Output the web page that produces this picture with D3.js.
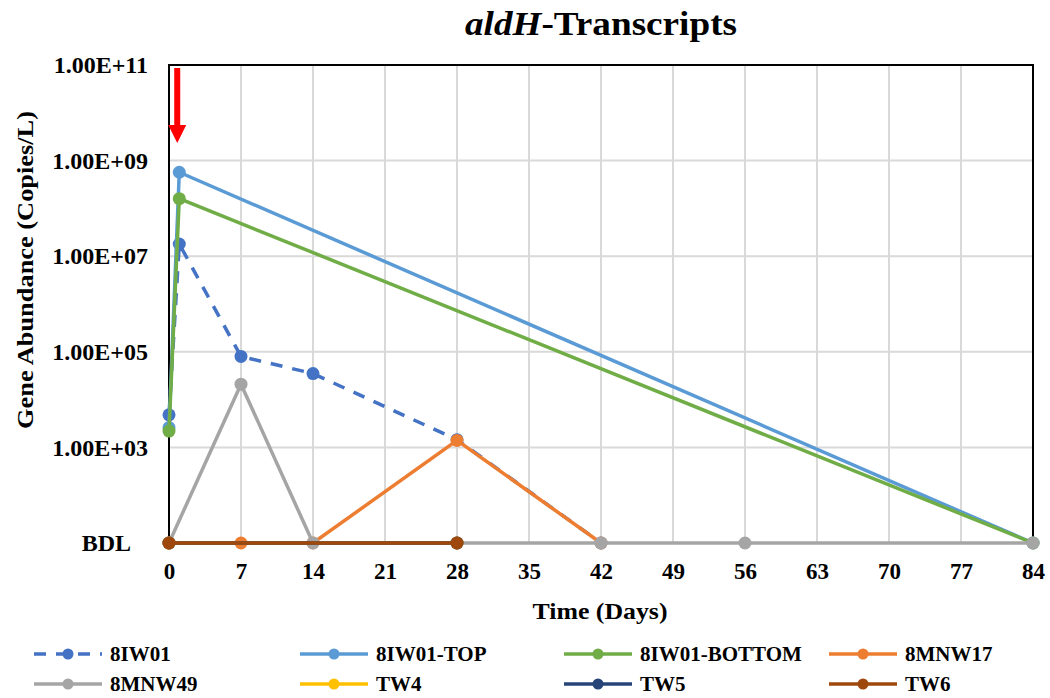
<!DOCTYPE html>
<html>
<head>
<meta charset="utf-8">
<script src="https://cdn.jsdelivr.net/npm/d3@7"></script>
<style>
  body { margin: 0; background: #fff; }
  text { font-family: "Liberation Serif", "Times New Roman", serif; font-weight: bold; }
</style>
</head>
<body>
<div id="chart"></div>
<script>
// BDL is plotted at 1e1 (bottom of the log axis)
var BDL = 10;

var seriesNames = ["8IW01", "8IW01-TOP", "8IW01-BOTTOM", "8MNW17", "8MNW49", "TW4", "TW5", "TW6"];
var seriesColors = ["#4472C4", "#5B9BD5", "#70AD47", "#ED7D31", "#A5A5A5", "#FFC000", "#264478", "#9E480E"];
var seriesDashed = [true, false, false, false, false, false, false, false];

var days_8IW01 = [0, 1, 7, 14, 28, 42];
var vals_8IW01 = [4.8e3, 1.8e7, 8e4, 3.5e4, 1.45e3, BDL];

var days_8IW01_TOP = [0, 1, 84];
var vals_8IW01_TOP = [2.6e3, 5.7e8, BDL];

var days_8IW01_BOTTOM = [0, 1, 84];
var vals_8IW01_BOTTOM = [2.2e3, 1.6e8, BDL];

var days_8MNW17 = [0, 7, 14, 28, 42];
var vals_8MNW17 = [BDL, BDL, BDL, 1.4e3, BDL];

var days_8MNW49 = [0, 7, 14, 28, 42, 56, 84];
var vals_8MNW49 = [BDL, 2.1e4, BDL, BDL, BDL, BDL, BDL];

var days_TW = [0, 28];
var vals_TW4 = [BDL, BDL];
var vals_TW5 = [BDL, BDL];
var vals_TW6 = [BDL, BDL];

var xTicks = [0, 7, 14, 21, 28, 35, 42, 49, 56, 63, 70, 77, 84];
var yTicks = [10, 1e3, 1e5, 1e7, 1e9, 1e11];
var yTickLabels = ["BDL", "1.00E+03", "1.00E+05", "1.00E+07", "1.00E+09", "1.00E+11"];

// arrow marks the injection time
var arrowDay = 0.8;

var allDays = [days_8IW01, days_8IW01_TOP, days_8IW01_BOTTOM, days_8MNW17, days_8MNW49, days_TW, days_TW, days_TW];
var allVals = [vals_8IW01, vals_8IW01_TOP, vals_8IW01_BOTTOM, vals_8MNW17, vals_8MNW49, vals_TW4, vals_TW5, vals_TW6];

function drawChart() {
  var W = 1050, H = 698;
  var pLeft = 169, pRight = 1033, pTop = 65, pBottom = 543;

  var svg = d3.select("#chart").append("svg")
      .attr("width", W)
      .attr("height", H);

  var x = d3.scaleLinear().domain([0, 84]).range([pLeft, pRight]);
  var y = d3.scaleLog().domain([10, 1e11]).range([pBottom, pTop]);

  // gridlines
  svg.append("g").selectAll("line")
    .data(xTicks).enter().append("line")
      .attr("x1", d => x(d)).attr("x2", d => x(d))
      .attr("y1", pTop).attr("y2", pBottom)
      .attr("stroke", "#D9D9D9").attr("stroke-width", 2);
  svg.append("g").selectAll("line")
    .data(yTicks).enter().append("line")
      .attr("x1", pLeft).attr("x2", pRight)
      .attr("y1", d => y(d)).attr("y2", d => y(d))
      .attr("stroke", "#D9D9D9").attr("stroke-width", 2);

  // plot border
  svg.append("rect")
    .attr("x", pLeft).attr("y", pTop)
    .attr("width", pRight - pLeft).attr("height", pBottom - pTop)
    .attr("fill", "none").attr("stroke", "#000").attr("stroke-width", 2);

  // axes (labels only, Excel style)
  var xAxis = svg.append("g")
    .attr("transform", "translate(0," + pBottom + ")")
    .call(d3.axisBottom(x).tickValues(xTicks).tickSize(0).tickPadding(20));
  xAxis.select(".domain").remove();
  xAxis.selectAll("text")
    .attr("font-size", 23).attr("font-family", "Liberation Serif").attr("font-weight", "bold").attr("fill", "#000");

  var yAxis = svg.append("g")
    .attr("transform", "translate(" + pLeft + ",0)")
    .call(d3.axisLeft(y).tickValues(yTicks).tickSize(0).tickPadding(21)
          .tickFormat((d, i) => yTickLabels[i]));
  yAxis.select(".domain").remove();
  yAxis.selectAll("text")
    .attr("font-size", 24).attr("font-family", "Liberation Serif").attr("font-weight", "bold").attr("fill", "#000")
    .attr("dx", (d, i) => i == 0 ? -17 : 0);

  // series lines + markers
  var line = d3.line().x(d => x(d[0])).y(d => y(d[1]));
  for (var s = 0; s < seriesNames.length; s++) {
    var pts = allDays[s].map((d, i) => [d, allVals[s][i]]);
    var g = svg.append("g");
    g.append("path")
      .datum(pts)
      .attr("d", line)
      .attr("fill", "none")
      .attr("stroke", seriesColors[s])
      .attr("stroke-width", 3.5)
      .attr("stroke-dasharray", seriesDashed[s] ? "12,10" : null);
    g.selectAll("circle")
      .data(pts).enter().append("circle")
      .attr("cx", d => x(d[0]))
      .attr("cy", d => y(d[1]))
      .attr("r", 6.5)
      .attr("fill", seriesColors[s]);
  }

  // red arrow
  var ax = x(arrowDay);
  svg.append("rect")
    .attr("x", ax - 3).attr("y", 68)
    .attr("width", 6).attr("height", 58)
    .attr("fill", "#FF0000");
  svg.append("path")
    .attr("d", "M" + (ax - 9) + ",125 L" + (ax + 9) + ",125 L" + ax + ",143 Z")
    .attr("fill", "#FF0000");

  // title
  var title = svg.append("text")
    .attr("x", 601).attr("y", 35)
    .attr("text-anchor", "middle")
    .attr("font-size", 33)
    .attr("textLength", 272)
    .attr("lengthAdjust", "spacingAndGlyphs");
  title.append("tspan").attr("font-style", "italic").text("aldH");
  title.append("tspan").text("-Transcripts");

  // axis titles
  svg.append("text")
    .attr("x", 600).attr("y", 619)
    .attr("text-anchor", "middle")
    .attr("font-size", 24)
    .attr("textLength", 135)
    .attr("lengthAdjust", "spacingAndGlyphs")
    .text("Time (Days)");

  svg.append("text")
    .attr("transform", "translate(33,270) rotate(-90)")
    .attr("text-anchor", "middle")
    .attr("font-size", 24)
    .attr("textLength", 318)
    .attr("lengthAdjust", "spacingAndGlyphs")
    .text("Gene Abundance (Copies/L)");

  // legend
  var legX = [34, 300, 564, 829];
  var legY = [654, 684];
  var legend = svg.append("g").selectAll("g")
    .data(seriesNames).enter().append("g")
    .attr("transform", (d, i) => "translate(" + legX[i % 4] + "," + legY[Math.floor(i / 4)] + ")");
  legend.append("line")
    .attr("x1", 0).attr("x2", 68)
    .attr("stroke", (d, i) => seriesColors[i])
    .attr("stroke-width", 3.5)
    .attr("stroke-dasharray", (d, i) => seriesDashed[i] ? "12,10" : null);
  legend.append("circle")
    .attr("cx", 34).attr("r", 5.5)
    .attr("fill", (d, i) => seriesColors[i]);
  legend.append("text")
    .attr("x", 76).attr("y", 7)
    .attr("font-size", 21)
    .text(d => d);
}

drawChart();
</script>
</body>
</html>
